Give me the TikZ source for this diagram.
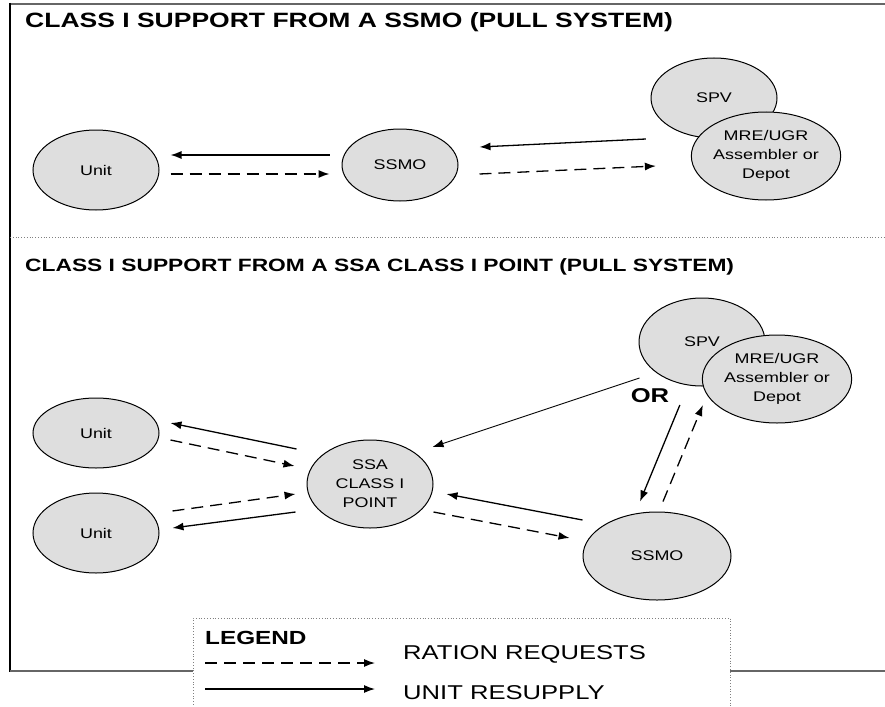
\documentclass[tikz,border=0pt]{standalone}
\usepackage{fontspec}
\setmainfont{Liberation Sans}
\newfontfamily\widesans[FakeStretch=1.28]{Liberation Sans}
\usetikzlibrary{shapes.geometric,arrows.meta,calc}
\definecolor{dotgray}{gray}{0.87}
\definecolor{framegray}{gray}{0.4}

\begin{document}
\begin{tikzpicture}[x=1pt,y=-1pt,
  place/.style={ellipse, draw=black, line width=1pt, fill=dotgray, inner sep=0pt,
    align=center, font=\widesans\fontsize{14}{19}\selectfont},
  supply/.style={-{Latex[length=11pt,width=8pt]}, line width=1.3pt},
  request/.style={supply, dash pattern=on 12pt off 7pt},
  heading/.style={anchor=west, inner sep=0pt, font=\widesans\bfseries\fontsize{#1}{#1}\selectfont},
  legtext/.style={anchor=west, inner sep=0pt, font=\widesans\fontsize{20}{20}\selectfont}]
\useasboundingbox (0,0) rectangle (885,706);

% outer frame and section divider
\draw[framegray, line width=2pt] (10,4) -- (885,4);
\draw[black, line width=2pt] (10,3) -- (10,672);
\draw[framegray, line width=1.5pt] (10,671) -- (885,671);
\draw[gray, line width=0.8pt, dotted] (10,237) -- (885,237);

% headings
\node[heading=20.7] (title1) at (25,22) {CLASS I SUPPORT FROM A SSMO (PULL SYSTEM)};
\node[heading=17.8] (title2) at (25,267) {CLASS I SUPPORT FROM A SSA CLASS I POINT  (PULL SYSTEM)};

% ---- upper scheme: support from a SSMO
\node[place, minimum width=126pt, minimum height=80pt] (u0) at (96,170) {Unit};
\node[place, minimum width=116pt, minimum height=72pt] (s0) at (400,165) {SSMO};
\node[place, minimum width=126pt, minimum height=80pt] (spv0) at (714,98) {SPV};
\node[place, minimum width=138pt, minimum height=88pt] (mre0) at (766,156) {MRE/UGR\\Assembler or\\Depot};

\draw[supply]  ([shift={(-12,-10)}]s0.west) -- ([shift={(11,-15)}]u0.east);
\draw[request] ([shift={(11,4)}]u0.east) -- ([shift={(-12,9)}]s0.west);
\draw[supply]  ([shift={(-45,-17)}]mre0.west) -- ([shift={(21,-18)}]s0.east);
\draw[request] ([shift={(21,9)}]s0.east) -- ([shift={(-35,10)}]mre0.west);

% ---- lower scheme: support from a SSA class I point
\node[place, minimum width=126pt, minimum height=70pt] (u1) at (96,433) {Unit};
\node[place, minimum width=126pt, minimum height=80pt] (u2) at (96,533) {Unit};
\node[place, minimum width=126pt, minimum height=88pt] (ssa) at (370,484) {SSA\\CLASS I\\POINT};
\node[place, minimum width=148pt, minimum height=88pt] (s1) at (657,556) {SSMO};
\node[place, minimum width=126pt, minimum height=88pt] (spv1) at (702,342) {SPV};
\node[place, minimum width=138pt, minimum height=88pt] (mre1) at (777,379) {MRE/UGR\\Assembler or\\Depot};
\node[inner sep=0pt, font=\widesans\bfseries\fontsize{20}{20}\selectfont] (or) at (650,396) {OR};

\draw[supply]  ([shift={(-10,-35)}]ssa.west) -- ([shift={(11,-10)}]u1.east);
\draw[request] ([shift={(11,7)}]u1.east) -- ([shift={(-12,-18)}]ssa.west);
\draw[request] ([shift={(13,-22)}]u2.east) -- ([shift={(-11,10)}]ssa.west);
\draw[supply]  ([shift={(-11,28)}]ssa.west) -- ([shift={(13,-5)}]u2.east);
\draw[supply, line width=0.9pt] ([shift={(1,36)}]spv1.west) -- ([shift={(-1,-37)}]ssa.east);
\draw[supply]  ([shift={(0,-36)}]s1.west) -- ([shift={(13,10)}]ssa.east);
\draw[request] ([shift={(0,28)}]ssa.east) -- ([shift={(-13,-18)}]s1.west);
\draw[supply]  ([shift={(-22,26)}]mre1.west) -- ([shift={(-17,-10)}]s1.north);
\draw[request] ([shift={(6,-10)}]s1.north) -- ([shift={(1,26)}]mre1.west);

% ---- legend
\draw[gray, line width=0.8pt, dotted, fill=white] (193,730) -- (193,618) -- (730,618) -- (730,730);
\node[anchor=west, inner sep=0pt, font=\widesans\bfseries\fontsize{19}{19}\selectfont] (leg) at (205,638) {LEGEND};
\coordinate (ra) at (205,663);
\coordinate (rb) at (375,663);
\coordinate (sa) at (205,689);
\coordinate (sb) at (375,689);
\draw[request] (ra) -- (rb);
\draw[supply] (sa) -- (sb);
\node[legtext] (reqtxt) at (403,654) {RATION REQUESTS};
\node[legtext] (suptxt) at (403,693) {UNIT RESUPPLY};
\end{tikzpicture}
\end{document}
